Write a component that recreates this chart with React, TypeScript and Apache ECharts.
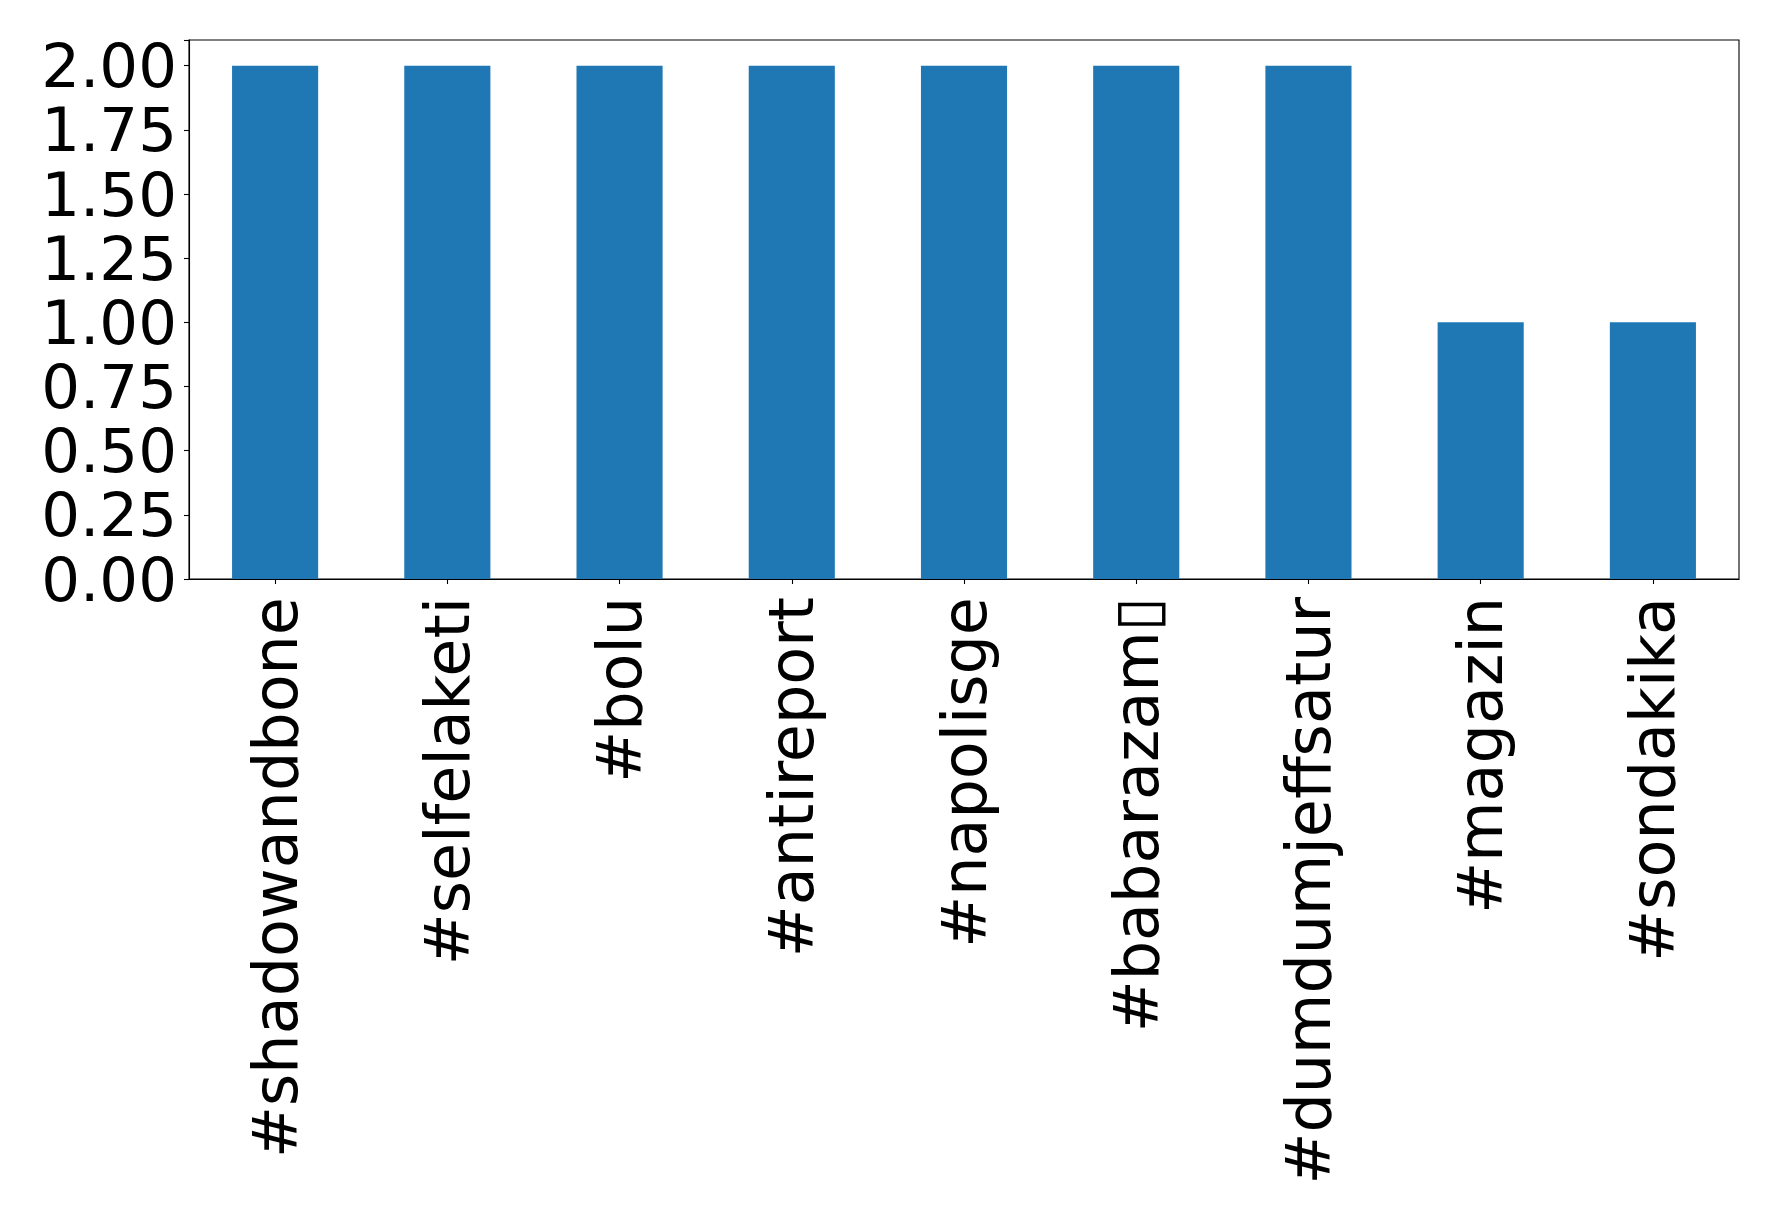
import React, { useEffect, useRef } from "react";
import * as echarts from "echarts";

const categories = [
  "#shadowandbone",
  "#selfelaketi",
  "#bolu",
  "#antireport",
  "#napolisge",
  "#babarazam\u25AF",
  "#dumdumjeffsatur",
  "#magazin",
  "#sondakika",
];
const counts = [2, 2, 2, 2, 2, 2, 2, 1, 1];
const yTicks = [0, 0.25, 0.5, 0.75, 1, 1.25, 1.5, 1.75, 2];

export default function App() {
  const ref = useRef<HTMLDivElement>(null);
  useEffect(() => {
    if (!ref.current) return;
    const chart = echarts.init(ref.current, undefined, { renderer: "svg" });
    const font = "DejaVu Sans";
    chart.setOption({
      animation: false,
      backgroundColor: "#ffffff",
      grid: {
        left: 189,
        top: 40,
        width: 1550,
        height: 539,
        show: true,
        borderColor: "#000",
        borderWidth: 1.1,
        backgroundColor: "transparent",
      },
      xAxis: {
        type: "category",
        data: categories,
        boundaryGap: true,
        axisLine: { show: true, lineStyle: { color: "#000", width: 1.1 } },
        axisTick: { show: true, alignWithLabel: true, length: 5, lineStyle: { color: "#000", width: 1.1 } },
        axisLabel: {
          rotate: 90,
          interval: 0,
          margin: 18,
          color: "#000",
          fontSize: 62,
          fontFamily: font,
        },
        splitLine: { show: false },
      },
      yAxis: {
        type: "value",
        min: 0,
        max: 2.1,
        interval: 0.25,
        axisLine: { show: true, lineStyle: { color: "#000", width: 1.1 } },
        axisTick: { show: true, length: 5, lineStyle: { color: "#000", width: 1.1 } },
        axisLabel: {
          margin: 12,
          color: "#000",
          fontSize: 61,
          lineHeight: 56,
          fontFamily: font,
          formatter: (v: number) => (yTicks.includes(v) ? v.toFixed(2) : ""),
        },
        splitLine: { show: false },
      },
      series: [
        {
          type: "bar",
          data: counts,
          barWidth: "50%",
          itemStyle: { color: "#1f77b4" },
        },
      ],
    });
    return () => chart.dispose();
  }, []);
  return (
    <div
      ref={ref}
      style={{ position: "absolute", left: 0, top: 0, width: 1778, height: 1221 }}
    />
  );
}
